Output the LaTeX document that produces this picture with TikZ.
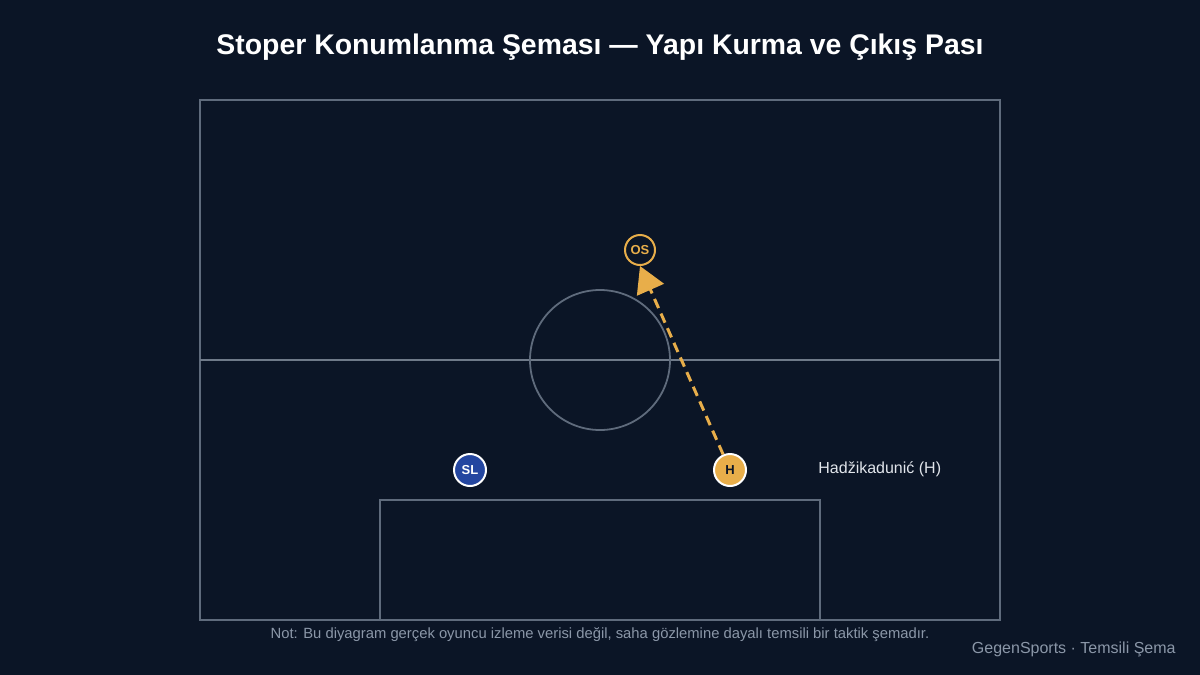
\documentclass[tikz,border=0pt]{standalone}
\usepackage{fontspec}
\setmainfont{Liberation Sans}
\usetikzlibrary{arrows.meta,positioning}
\definecolor{bgnavy}{HTML}{0B1526}
\definecolor{pitchline}{HTML}{5F6B7C}
\definecolor{gold}{HTML}{E8AE4A}
\definecolor{slblue}{HTML}{2446A0}
\definecolor{notegray}{HTML}{8B97A8}
\definecolor{labelgray}{HTML}{E1E5EB}
\begin{document}
\begin{tikzpicture}[
x=0.5pt,y=-0.5pt,
line/.style={draw=pitchline,line width=1.4pt},
player/.style={circle,inner sep=0pt,minimum size=16pt,line width=1pt,font=\bfseries\fontsize{6.5}{7}\selectfont},
pass/.style={draw=gold,line width=1.5pt,dash pattern=on 5pt off 3pt,-{Triangle[length=13pt,width=14.5pt]}},
]
%background
\fill[bgnavy](0,0)rectangle(1200,675);
\useasboundingbox(0,0)rectangle(1200,675);
%title
\node[white,font=\bfseries\fontsize{14.2}{16}\selectfont]at(600,47){Stoper Konumlanma Şeması — Yapı Kurma ve Çıkış Pası};

%pitch
\draw[line](200,100)rectangle(1000,620);
\draw[draw=pitchline!90!white,line width=0.9pt](200,360)--(1000,360);
\draw[draw=pitchline,line width=0.9pt](600,360)circle[radius=70];
\draw[line](380,620)--(380,500)--(820,500)--(820,620);

%players
\node[player,draw=white,fill=slblue,text=white](SL)at(470,470){SL};
\node[player,draw=white,fill=gold,text=bgnavy](H)at(730,470){H};
\node[player,draw=gold,fill=bgnavy,text=gold,minimum size=15pt](OS)at(640,250){OS};
\node[anchor=west,inner sep=0pt,text=labelgray,font=\fontsize{8}{9}\selectfont](label)at(818,469){Hadžikadunić (H)};

%pass
\draw[pass](H)--(OS.south);

%notes
\node[text=notegray,font=\fontsize{7.4}{8}\selectfont](note)at(600,635){Not: Bu diyagram gerçek oyuncu izleme verisi değil, saha gözlemine dayalı temsili bir taktik şemadır.};
\node[anchor=east,inner sep=0pt,text=notegray,font=\fontsize{8}{9}\selectfont](brand)at(1176,649){GegenSports · Temsili Şema};
\end{tikzpicture}
\end{document}
